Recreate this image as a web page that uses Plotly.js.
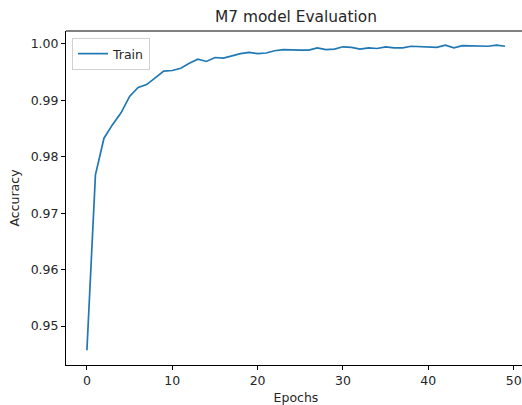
<!DOCTYPE html>
<html>
<head>
<meta charset="utf-8">
<script src="https://cdn.plot.ly/plotly-3.0.1.min.js"></script>
<style>
html,body{margin:0;padding:0;width:522px;height:405px;overflow:hidden;background:#fff;}
#chart{width:600px;height:405px;}
</style>
</head>
<body>
<div id="chart"></div>
<script>
const epochs = [0,1,2,3,4,5,6,7,8,9,10,11,12,13,14,15,16,17,18,19,20,21,22,23,24,25,26,27,28,29,30,31,32,33,34,35,36,37,38,39,40,41,42,43,44,45,46,47,48,49];
const trainAcc = [0.9457,0.9768,0.9833,0.9857,0.9878,0.9907,0.9923,0.9928,0.9940,0.9952,0.9953,0.9957,0.9966,0.9973,0.9969,0.9976,0.9975,0.9979,0.9983,0.9985,0.9983,0.9984,0.9988,0.9990,0.9989,0.9989,0.9989,0.9993,0.9990,0.9991,0.9995,0.9994,0.9991,0.9993,0.9992,0.9995,0.9993,0.9993,0.9996,0.9995,0.9995,0.9994,0.9998,0.9993,0.9997,0.9997,0.9996,0.9996,0.9998,0.9996];
const xTicks = [0,10,20,30,40,50];
const yTicks = [0.95,0.96,0.97,0.98,0.99,1.00];
const yTickText = ['0.95','0.96','0.97','0.98','0.99','1.00'];

const font = {family:'DejaVu Sans, sans-serif', size:12, color:'#262626'};
Plotly.newPlot('chart', [{
  x: epochs, y: trainAcc, type:'scatter', mode:'lines', name:'Train',
  line:{color:'#1f77b4', width:1.7}
}], {
  width:600, height:405,
  margin:{l:66, r:74, t:31, b:40},
  paper_bgcolor:'#fff', plot_bgcolor:'#fff',
  font: font,
  title:{text:'M7 model Evaluation', font:{family:'DejaVu Sans, sans-serif', size:15.4, color:'#262626'}, x:296/600, xanchor:'center', y:1-17/405, yanchor:'middle'},
  xaxis:{range:[-2.45,51.45], tickvals:xTicks, ticktext:xTicks.map(String), showgrid:false, zeroline:false,
    showline:true, linecolor:'#000', linewidth:1, ticks:'outside', ticklen:4, tickcolor:'#000', tickwidth:1,
    title:{text:'Epochs', font:{size:12.5}, standoff:6}, tickfont:{size:12.5}},
  yaxis:{range:[0.9431,1.0023], tickvals:yTicks, ticktext:yTickText, showgrid:false, zeroline:false,
    showline:true, linecolor:'#000', linewidth:1, ticks:'outside', ticklen:4, tickcolor:'#000', tickwidth:1,
    title:{text:'Accuracy', font:{size:12.5}, standoff:8}, tickfont:{size:12.5}},
  showlegend:true,
  legend:{x:6/460, y:1-7/334, xanchor:'left', yanchor:'top', bgcolor:'rgba(255,255,255,0.8)', bordercolor:'#d0d0d0', borderwidth:1, font:{size:12.5}},
  shapes:[{type:'line', xref:'paper', yref:'paper', x0:0, x1:1, y0:1, y1:1, line:{color:'#808080', width:2}}]
}, {staticPlot:true});
</script>
</body>
</html>
